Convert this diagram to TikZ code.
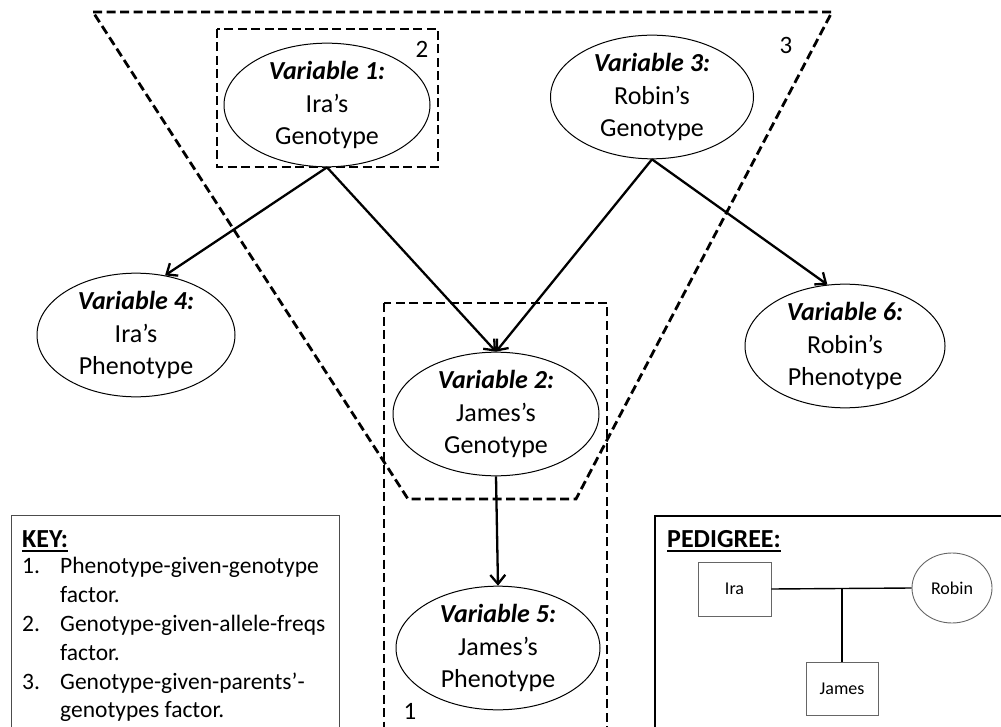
\documentclass[tikz,border=0pt]{standalone}
\usepackage{fontspec}
\setmainfont{Carlito}
\usetikzlibrary{arrows.meta,shapes.geometric}
\begin{document}
\begin{tikzpicture}[x=1pt,y=-1pt,
  var/.style={draw, ellipse, line width=1pt, fill=white, inner sep=0pt, align=center,
    font=\fontsize{26}{32.5}\selectfont},
  region/.style={draw, line width=2.8pt, dash pattern=on 9pt off 4.5pt},
  arr/.style={line width=2.3pt, -{Straight Barb[length=9pt,width=15pt]}},
  lbl/.style={font=\fontsize{25}{28}\selectfont, inner sep=0pt},
  keytxt/.style={font=\fontsize{23.5}{28.8}\selectfont, inner sep=0pt, anchor=base west},
  head/.style={font=\fontsize{26}{30}\selectfont\bfseries, inner sep=0pt, anchor=base west},
  ped/.style={draw=gray!80!black, line width=0.9pt, font=\fontsize{18}{20}\selectfont, inner sep=0pt},
  uline/.style={line width=2pt},
]
\useasboundingbox (0,0) rectangle (1001,727);
\clip (0,0) rectangle (1001,727);

% factor regions
\draw[region] (93,12) -- (832,12) -- (576,499) -- (408,499) -- cycle;
\draw[region] (217,29) rectangle (438,167);
\draw[region] (384,303) rectangle (607,745);

% variables
\node[var, minimum width=206pt, minimum height=118pt] (v1) at (327,105) {\textbf{\textit{Variable 1:}}\\Ira’s\\Genotype};
\node[var, minimum width=203pt, minimum height=119pt] (v3) at (652,97) {\textbf{\textit{Variable 3:}}\\Robin’s\\Genotype};
\node[var, minimum width=198pt, minimum height=120pt] (v4) at (136,335) {\textbf{\textit{Variable 4:}}\\Ira’s\\Phenotype};
\node[var, minimum width=206pt, minimum height=118pt] (v2) at (496,414) {\textbf{\textit{Variable 2:}}\\James’s\\Genotype};
\node[var, minimum width=200pt, minimum height=119pt] (v6) at (845,346) {\textbf{\textit{Variable 6:}}\\Robin’s\\Phenotype};
\node[var, minimum width=204pt, minimum height=120pt] (v5) at (498,648) {\textbf{\textit{Variable 5:}}\\James’s\\Phenotype};

% arrows
\draw[arr] (v1.south) -- (v4.64);
\draw[arr] (v1.south) -- (v2.north);
\draw[arr] (v3.south) -- (v2.north);
\draw[arr] (v3.south) -- (v6.106);
\draw[arr] (v2.south) -- (v5.north);

% region labels
\node[lbl] (n2) at (422,49) {2};
\node[lbl] (n3) at (786,45) {3};
\node[lbl] (n1) at (410,711) {1};

% key
\draw[draw=gray!60!black, line width=1pt] (11,515) rectangle (339,745);
\node[head] (keyh) at (22,547) {KEY:};
\draw[uline] ([yshift=-3.5pt]keyh.base west) -- ([yshift=-3.5pt]keyh.base east);
\node[keytxt] (k1) at (22,573) {1.};
\node[keytxt] (k1a) at (60,573) {Phenotype-given-genotype};
\node[keytxt] (k1b) at (60,602) {factor.};
\node[keytxt] (k2) at (22,631) {2.};
\node[keytxt] (k2a) at (60,631) {Genotype-given-allele-freqs};
\node[keytxt] (k2b) at (60,660) {factor.};
\node[keytxt] (k3) at (22,689) {3.};
\node[keytxt] (k3a) at (60,689) {Genotype-given-parents’-};
\node[keytxt] (k3b) at (60,717) {genotypes factor.};

% pedigree
\draw[line width=1.2pt] (655,516) rectangle (1012,745);
\node[head] (pedh) at (667,547) {PEDIGREE:};
\draw[uline] ([yshift=-3.5pt]pedh.base west) -- ([yshift=-3.5pt]pedh.base east);
\node[ped, rectangle, minimum width=73pt, minimum height=54pt] (ira) at (734.5,589) {Ira};
\node[ped, ellipse, minimum width=80pt, minimum height=70pt] (robin) at (952,588) {Robin};
\node[ped, rectangle, minimum width=72pt, minimum height=53pt] (james) at (842,688.5) {James};
\coordinate (j) at (james.north |- ira.east);
\draw[line width=1.4pt] (ira.east) -- (robin.west);
\draw[line width=1.4pt] (j) -- (james.north);
\end{tikzpicture}
\end{document}
